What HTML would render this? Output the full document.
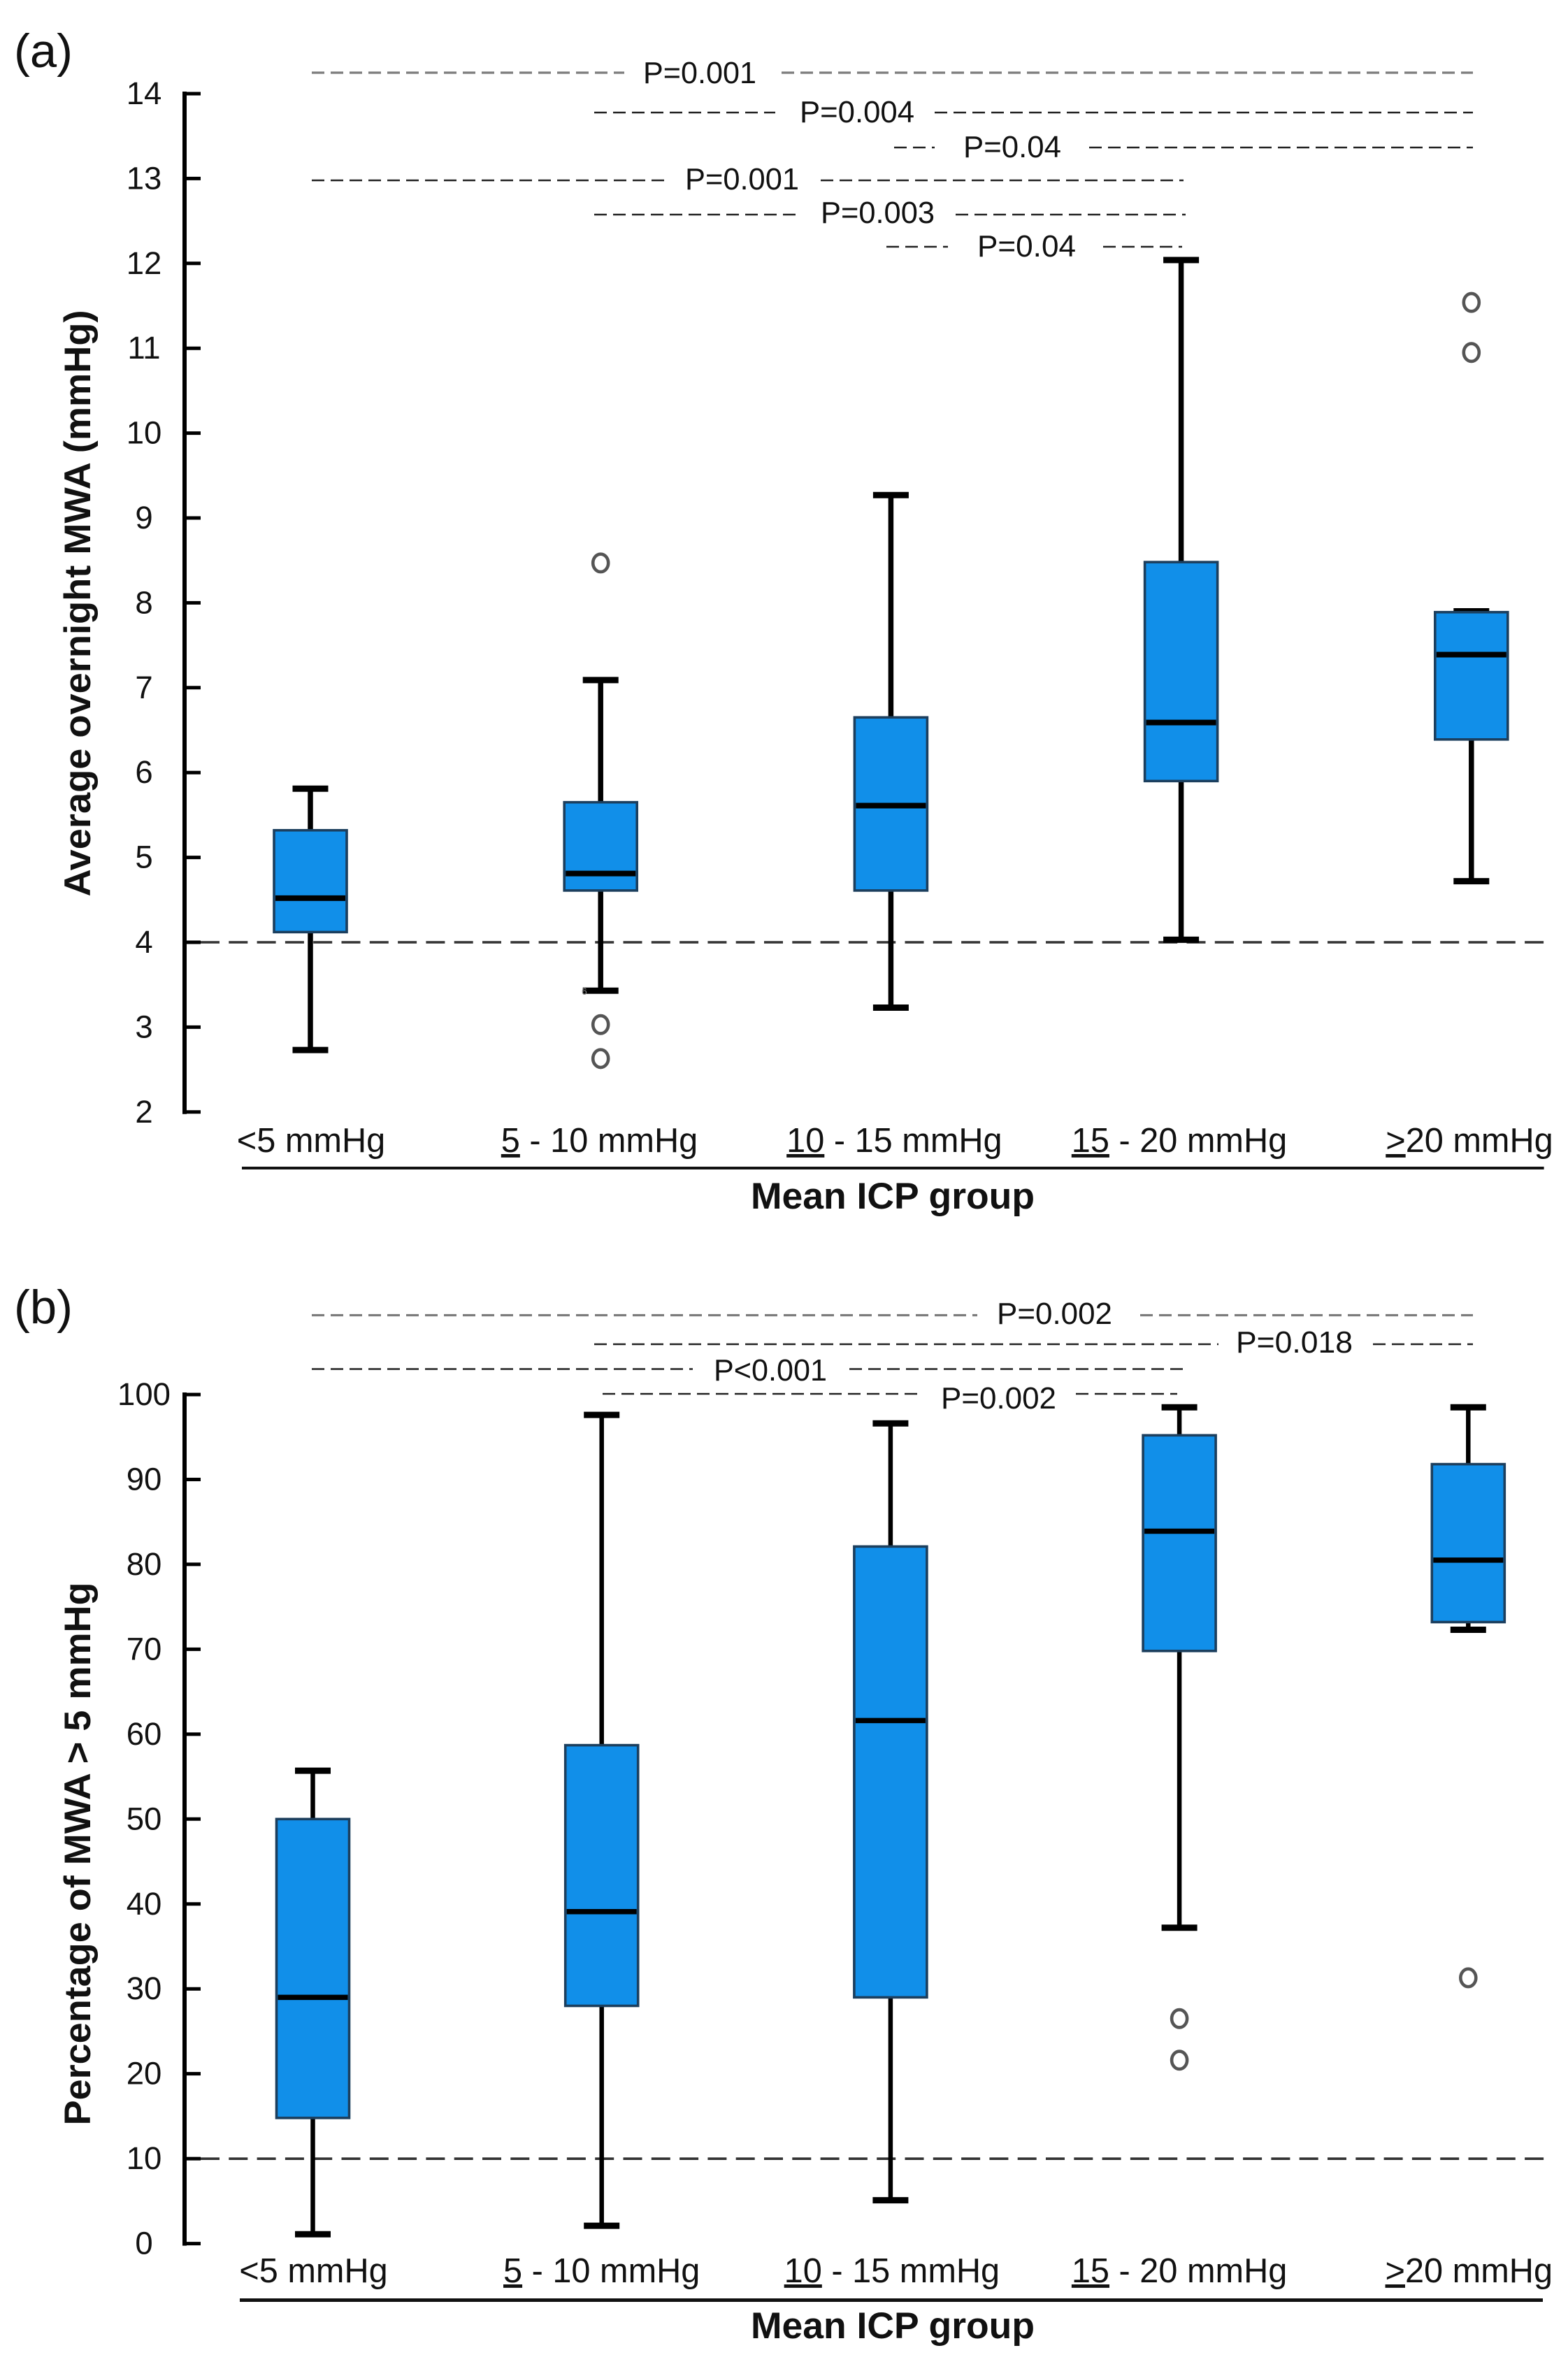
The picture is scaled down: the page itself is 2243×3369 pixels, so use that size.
<!DOCTYPE html>
<html lang="en">
<head>
<meta charset="utf-8">
<title>MWA by mean ICP group</title>
<style>
html,body{margin:0;padding:0;background:#fff;}
svg{display:block;}
text{font-family:"Liberation Sans",Arial,sans-serif;fill:#111;}
.p{font-size:43.5px;}
.b{font-weight:bold;}
.gray{stroke:#7c7c7c;stroke-width:3.2;stroke-dasharray:18 9;fill:none;}
.dark{stroke:#222;stroke-width:2.6;stroke-dasharray:18 9;fill:none;}
</style>
</head>
<body>
<svg id="chart" xmlns="http://www.w3.org/2000/svg" width="2243" height="3369" viewBox="0 0 2243 3369">
<rect x="0" y="0" width="2243" height="3369" fill="#fff"/>

<text x="20" y="96" font-size="68" textLength="84" lengthAdjust="spacingAndGlyphs">(a)</text>
<text x="20" y="1893" font-size="68" textLength="84" lengthAdjust="spacingAndGlyphs">(b)</text>

<text class="b" transform="translate(129,863) rotate(-90)" text-anchor="middle" font-size="53" textLength="839" lengthAdjust="spacingAndGlyphs">Average overnight MWA (mmHg)</text>
<text class="b" transform="translate(129,2652) rotate(-90)" text-anchor="middle" font-size="53" textLength="777" lengthAdjust="spacingAndGlyphs">Percentage of MWA &gt; 5 mmHg</text>

<line x1="346" x2="2208.6" y1="1671" y2="1671" stroke="#111" stroke-width="4"/>
<line x1="343" x2="2207" y1="3290.5" y2="3290.5" stroke="#111" stroke-width="5"/>
<text class="b" x="1074" y="1729" font-size="53" textLength="406" lengthAdjust="spacingAndGlyphs">Mean ICP group</text>
<text class="b" x="1074" y="3345" font-size="53" textLength="406" lengthAdjust="spacingAndGlyphs">Mean ICP group</text>

<g>
  <line class="gray" x1="446" x2="893" y1="104" y2="104"/>
  <text class="p" x="920" y="119" textLength="162" lengthAdjust="spacingAndGlyphs">P=0.001</text>
  <line class="gray" x1="1118" x2="2107" y1="104" y2="104"/>

  <line class="dark" x1="850" x2="1109" y1="161" y2="161"/>
  <text class="p" x="1144" y="175" textLength="164" lengthAdjust="spacingAndGlyphs">P=0.004</text>
  <line class="dark" x1="1337" x2="2107" y1="161" y2="161"/>

  <line class="dark" x1="1279" x2="1337" y1="211" y2="211"/>
  <text class="p" x="1378" y="225" textLength="140" lengthAdjust="spacingAndGlyphs">P=0.04</text>
  <line class="dark" x1="1558" x2="2107" y1="211" y2="211"/>

  <line class="dark" x1="446" x2="953" y1="258" y2="258"/>
  <text class="p" x="980" y="271" textLength="163" lengthAdjust="spacingAndGlyphs">P=0.001</text>
  <line class="dark" x1="1174" x2="1693" y1="258" y2="258"/>

  <line class="dark" x1="850" x2="1145" y1="307" y2="307"/>
  <text class="p" x="1174" y="319" textLength="163" lengthAdjust="spacingAndGlyphs">P=0.003</text>
  <line class="dark" x1="1367" x2="1696" y1="307" y2="307"/>

  <line class="dark" x1="1268" x2="1356" y1="353" y2="353"/>
  <text class="p" x="1398" y="367" textLength="141" lengthAdjust="spacingAndGlyphs">P=0.04</text>
  <line class="dark" x1="1578" x2="1691" y1="353" y2="353"/>
</g>

<g>
  <line class="gray" x1="446" x2="1398" y1="1881.5" y2="1881.5"/>
  <text class="p" x="1426" y="1894" textLength="165" lengthAdjust="spacingAndGlyphs">P=0.002</text>
  <line class="gray" x1="1631" x2="2107" y1="1881.5" y2="1881.5"/>

  <line class="dark" x1="850" x2="1743" y1="1923" y2="1923"/>
  <text class="p" x="1768" y="1935" textLength="167" lengthAdjust="spacingAndGlyphs">P=0.018</text>
  <line class="dark" x1="1964" x2="2107" y1="1923" y2="1923"/>

  <line class="dark" x1="446" x2="991" y1="1958.5" y2="1958.5"/>
  <text class="p" x="1021" y="1975" textLength="162" lengthAdjust="spacingAndGlyphs">P&lt;0.001</text>
  <line class="dark" x1="1215" x2="1693" y1="1958.5" y2="1958.5"/>

  <line class="dark" x1="862" x2="1317" y1="1994" y2="1994"/>
  <text class="p" x="1346" y="2015" textLength="165" lengthAdjust="spacingAndGlyphs">P=0.002</text>
  <line class="dark" x1="1539" x2="1684" y1="1994" y2="1994"/>
</g>

<g id="panel-a"></g>
<g id="panel-b"></g>
<text x="832" y="1423" font-size="14" style="fill:#888">6</text>
</svg>

<script>
// Shared categories: label text and how many leading characters are underlined
const categories = ['<5 mmHg', '5 - 10 mmHg', '10 - 15 mmHg', '15 - 20 mmHg', '>20 mmHg'];
const underlinedChars = [0, 1, 2, 2, 1];

// Panel (a): Average overnight MWA (mmHg)
const ticksA = [2, 3, 4, 5, 6, 7, 8, 9, 10, 11, 12, 13, 14];
const whiskerLowA = [2.73, 3.43, 3.23, 4.03, 4.72];
const q1A = [4.12, 4.61, 4.61, 5.90, 6.39];
const medianA = [4.52, 4.81, 5.61, 6.59, 7.39];
const q3A = [5.32, 5.65, 6.65, 8.48, 7.89];
const whiskerHighA = [5.81, 7.09, 9.27, 12.04, 7.90];
const outliersA = [[], [8.47, 3.03, 2.63], [], [], [11.54, 10.95]];
const thresholdA = 4;

// Panel (b): Percentage of MWA > 5 mmHg
const ticksB = [0, 10, 20, 30, 40, 50, 60, 70, 80, 90, 100];
const whiskerLowB = [1.1, 2.1, 5.1, 37.2, 72.3];
const q1B = [14.8, 28, 29, 69.8, 73.2];
const medianB = [29, 39.1, 61.6, 83.9, 80.5];
const q3B = [50, 58.7, 82.1, 95.2, 91.8];
const whiskerHighB = [55.7, 97.6, 96.6, 98.5, 98.5];
const outliersB = [[], [], [], [26.5, 21.6], [31.3]];
const thresholdB = 10;

const NS = 'http://www.w3.org/2000/svg';
function mk(parent, tag, props) {
  const el = document.createElementNS(NS, tag);
  for (const k in props) el.setAttribute(k, props[k]);
  parent.appendChild(el);
  return el;
}

function drawPanel(cfg) {
  const g = document.getElementById(cfg.id);
  const y = v => cfg.yTop + (cfg.vTop - v) * cfg.pxPerUnit;
  const x = i => cfg.x0 + i * cfg.step;

  // threshold dashed line (behind boxes)
  const thr = mk(g, 'line', {x1: 287, x2: 2208.6, y1: y(cfg.threshold), y2: y(cfg.threshold), stroke: '#333', 'stroke-width': 3.6, 'stroke-dasharray': '27 13.3'});
  
  

  // y axis
  const axis = mk(g, 'line', {x1: 264, x2: 264, y1: y(cfg.vTop) - 3, y2: y(cfg.ticks[0]) + 3, stroke: '#000', 'stroke-width': 6});
  
  

  cfg.ticks.forEach(t => {
    const tick = mk(g, 'line', {x1: 261, x2: 287, y1: y(t), y2: y(t), stroke: '#000', 'stroke-width': 5});
    
    
    const lab = mk(g, 'text', {x: 206, y: y(t) + 15, 'text-anchor': 'middle', 'font-size': 45.5});
    
    
    lab.textContent = t;
  });

  categories.forEach((c, i) => {
    const cx = x(i);
    const whisker = mk(g, 'line', {x1: cx, x2: cx, y1: y(cfg.hi[i]), y2: y(cfg.lo[i]), stroke: '#000', 'stroke-width': cfg.whiskerW});
    
    

    const capHi = mk(g, 'line', {x1: cx - 25.5, x2: cx + 25.5, y1: y(cfg.hi[i]), y2: y(cfg.hi[i]), stroke: '#000', 'stroke-width': 9});
    
    

    const capLo = mk(g, 'line', {x1: cx - 25.5, x2: cx + 25.5, y1: y(cfg.lo[i]), y2: y(cfg.lo[i]), stroke: '#000', 'stroke-width': 9});
    
    

    const box = mk(g, 'rect', {x: cx - 52, y: y(cfg.q3[i]), width: 104, height: y(cfg.q1[i]) - y(cfg.q3[i]), fill: '#118fe9', stroke: '#1c3f5e', 'stroke-width': 3.6});
    
    

    const med = mk(g, 'line', {x1: cx - 50, x2: cx + 50, y1: y(cfg.med[i]), y2: y(cfg.med[i]), stroke: '#000', 'stroke-width': cfg.medianW});
    
    

    cfg.out[i].forEach(v => {
      const o = mk(g, 'ellipse', {cx: cx, cy: y(v), rx: 11, ry: 12.7, fill: 'none', stroke: '#555', 'stroke-width': 4.6});
      
      
    });

    const lab = mk(g, 'text', {x: cx + cfg.labelNudge[i], y: cfg.labelY, 'text-anchor': 'middle', 'font-size': 48.7});
    
    
    const n = underlinedChars[i];
    if (n > 0) {
      const u = mk(lab, 'tspan', {style: 'text-decoration:underline'});
      u.textContent = c.slice(0, n);
      lab.appendChild(document.createTextNode(c.slice(n)));
    } else {
      lab.textContent = c;
    }
  });
}

drawPanel({
  id: 'panel-a', yTop: 134, vTop: 14, pxPerUnit: 121.4, x0: 444, step: 415.2,
  ticks: ticksA, lo: whiskerLowA, q1: q1A, med: medianA, q3: q3A, hi: whiskerHighA, out: outliersA,
  threshold: thresholdA, whiskerW: 7.5, medianW: 8, labelY: 1648, labelNudge: [1, -1.7, 5, -2.6, -2.8]
});
drawPanel({
  id: 'panel-b', yTop: 1995, vTop: 100, pxPerUnit: 12.146, x0: 447.5, step: 413.2,
  ticks: ticksB, lo: whiskerLowB, q1: q1B, med: medianB, q3: q3B, hi: whiskerHighB, out: outliersB,
  threshold: thresholdB, whiskerW: 6.5, medianW: 7.5, labelY: 3265, labelNudge: [1, 0, 2, 0, 1]
});
</script>
</body>
</html>
